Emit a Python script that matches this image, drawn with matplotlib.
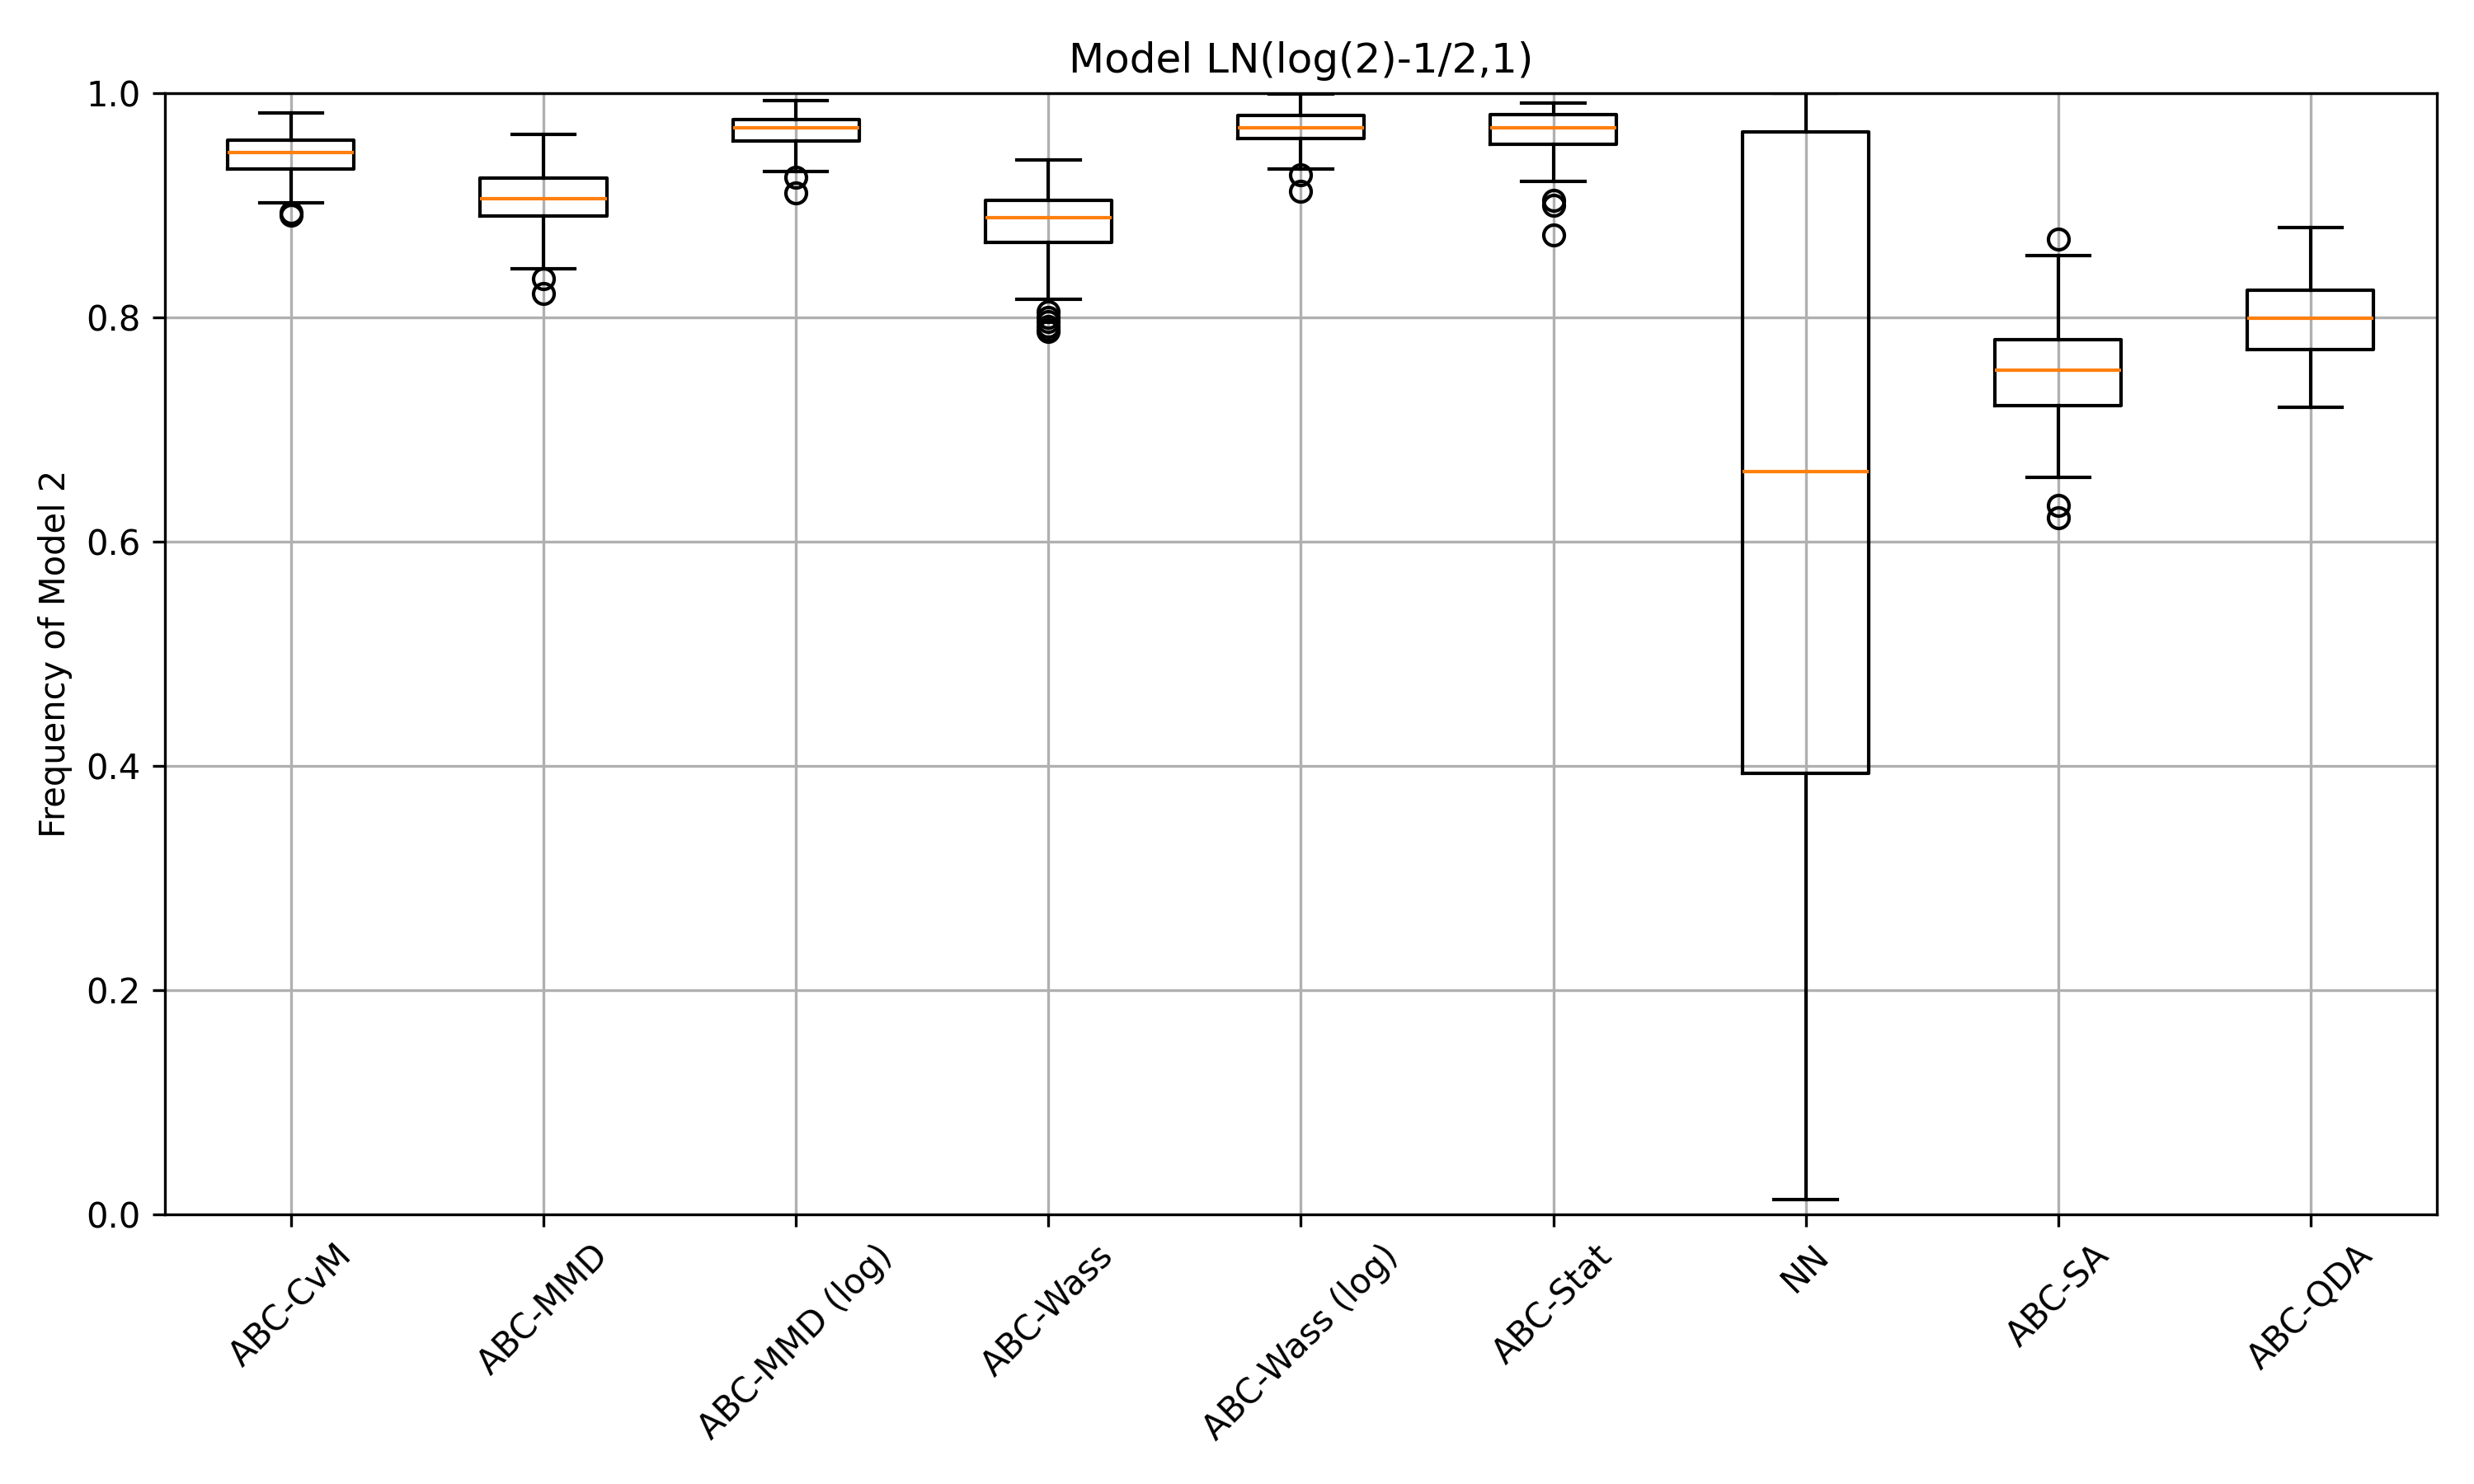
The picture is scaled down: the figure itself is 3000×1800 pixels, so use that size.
import matplotlib
matplotlib.use("Agg")
import matplotlib.pyplot as plt

# Method names (x axis)
methods = ["ABC-CvM", "ABC-MMD", "ABC-MMD (log)", "ABC-Wass", "ABC-Wass (log)",
           "ABC-Stat", "NN", "ABC-SA", "ABC-QDA"]

# Box statistics
whisker_low = [0.902, 0.843, 0.930, 0.816, 0.932, 0.921, 0.013, 0.657, 0.720]
q1 = [0.932, 0.890, 0.957, 0.867, 0.959, 0.954, 0.393, 0.721, 0.771]
medians = [0.947, 0.906, 0.969, 0.889, 0.969, 0.969, 0.662, 0.753, 0.799]
q3 = [0.958, 0.924, 0.976, 0.904, 0.980, 0.981, 0.965, 0.780, 0.824]
whisker_high = [0.982, 0.963, 0.993, 0.940, 0.999, 0.991, 1.000, 0.855, 0.880]
outliers = [
    [0.893, 0.891],
    [0.834, 0.821],
    [0.925, 0.911],
    [0.805, 0.800, 0.796, 0.792, 0.789, 0.787],
    [0.927, 0.912],
    [0.904, 0.900, 0.873],
    [],
    [0.870, 0.632, 0.621],
    [],
]

stats = []
for i, name in enumerate(methods):
    stats.append({
        "label": name,
        "whislo": whisker_low[i],
        "q1": q1[i],
        "med": medians[i],
        "q3": q3[i],
        "whishi": whisker_high[i],
        "fliers": outliers[i],
    })

fig, ax = plt.subplots(figsize=(10, 6), dpi=300)
ax.bxp(stats, showfliers=True)
ax.set_title("Model LN(log(2)-1/2,1)")
ax.set_ylabel("Frequency of Model 2")
ax.set_ylim(0, 1)
ax.grid(True)
plt.xticks(rotation=45)
fig.subplots_adjust(left=0.0666, right=0.985, bottom=0.1817, top=0.9374)
plt.savefig("out.png", dpi=300)
